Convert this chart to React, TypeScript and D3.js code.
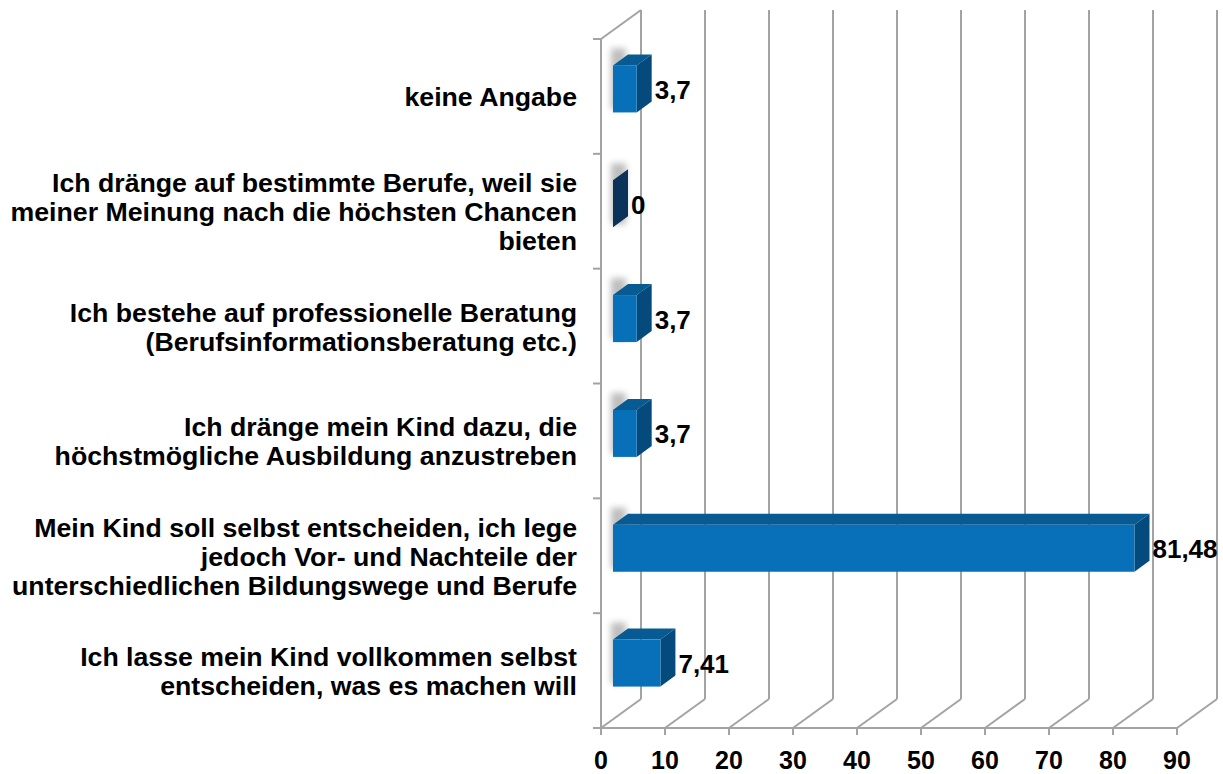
import React from "react";
import * as d3 from "d3";

const categories: string[][] = [
  ["keine Angabe"],
  ["Ich dränge auf bestimmte Berufe, weil sie", "meiner Meinung nach die höchsten Chancen", "bieten"],
  ["Ich bestehe auf professionelle Beratung", "(Berufsinformationsberatung etc.)"],
  ["Ich dränge mein Kind dazu, die", "höchstmögliche Ausbildung anzustreben"],
  ["Mein Kind soll selbst entscheiden, ich lege", "jedoch Vor- und Nachteile der", "unterschiedlichen Bildungswege und Berufe"],
  ["Ich lasse mein Kind vollkommen selbst", "entscheiden, was es machen will"],
];
const values: number[] = [3.7, 0, 3.7, 3.7, 81.48, 7.41];
const valueLabels: string[] = ["3,7", "0", "3,7", "3,7", "81,48", "7,41"];
const ticks: number[] = [0, 10, 20, 30, 40, 50, 60, 70, 80, 90];

const W = 1223;
const H = 774;
const FONT = "'Liberation Sans', Arial, sans-serif";

export default function App() {
  const x = d3.scaleLinear().domain([0, 90]).range([601, 1177]);
  const ids = categories.map((_, i) => String(i));
  const y = d3.scaleBand().domain(ids).range([39, 728]).padding(0);
  const top = 39, bottom = 728;
  const DX = 40, DY = -29; // wall depth
  const bOX = 12, bOY = -7.5; // bar front offset (centre shift)
  const bDX = 15, bDY = -11; // bar depth
  const barH = 47;
  const grid = "#a3a3a3";

  const front = "#0870b9";
  const topC = "#085a92";
  const side = "#054a7c";
  const zeroSide = "#0b3258";

  return (
    <svg width={W} height={H} style={{ position: "absolute", left: 0, top: 0, background: "#fff" }}>
      <defs>
        <filter id="blur" x="-100%" y="-50%" width="300%" height="200%">
          <feGaussianBlur stdDeviation="3" />
        </filter>
      </defs>
      <g stroke={grid} strokeWidth={2} fill="none">
        <line x1={x(0)} y1={top} x2={x(0)} y2={bottom} />
        <line x1={x(0)} y1={top} x2={x(0) + DX} y2={top + DY} />
        {ticks.map((t) => (
          <line key={"v" + t} x1={x(t) + DX} y1={top + DY} x2={x(t) + DX} y2={bottom + DY} />
        ))}
        {ticks.map((t) => (
          <line key={"d" + t} x1={x(t)} y1={bottom} x2={x(t) + DX} y2={bottom + DY} />
        ))}
        <line x1={x(0)} y1={bottom} x2={x(90)} y2={bottom} />
        {ticks.map((t) => (
          <line key={"t" + t} x1={x(t)} y1={bottom} x2={x(t)} y2={bottom + 7} />
        ))}
        {[...ids.map((id) => y(id) as number), bottom].map((yy, i) => (
          <line key={"l" + i} x1={593} y1={yy} x2={x(0)} y2={yy} />
        ))}
      </g>

      {values.map((v, i) => {
        const id = ids[i];
        const cy = (y(id) as number) + y.bandwidth() / 2 + bOY;
        const y0 = cy - barH / 2;
        const y1 = cy + barH / 2;
        const x0 = x(0) + bOX;
        const x1 = x(v) + bOX;
        const topPts = [
          [x0, y0], [x1, y0], [x1 + bDX, y0 + bDY], [x0 + bDX, y0 + bDY],
        ];
        const sidePts = [
          [x1, y0], [x1 + bDX, y0 + bDY], [x1 + bDX, y1 + bDY], [x1, y1],
        ];
        const pts = (p: number[][]) => p.map((q) => q.join(",")).join(" ");
        return (
          <g key={"b" + i}>
            <rect
              x={x0 - 2}
              y={y0 + bDY - 6}
              width={bDX}
              height={barH + 14}
              fill="#8a8a8a"
              opacity={0.55}
              filter="url(#blur)"
            />
            {v > 0 && <polygon points={pts(topPts)} fill={topC} />}
            <polygon points={pts(sidePts)} fill={v > 0 ? side : zeroSide} />
            {v > 0 && <rect x={x0} y={y0} width={x1 - x0} height={barH} fill={front} />}
            <text
              x={x1 + bDX + 3}
              y={cy + 10}
              fontFamily={FONT}
              fontWeight="bold"
              fontSize={26}
              fill="#000"
            >
              {valueLabels[i]}
            </text>
          </g>
        );
      })}

      {categories.map((lines, i) => {
        const c = (y(ids[i]) as number) + y.bandwidth() / 2;
        return (
          <text key={"c" + i} fontFamily={FONT} fontWeight="bold" fontSize={26.7} textAnchor="end" fill="#000">
            {lines.map((ln, j) => (
              <tspan key={j} x={577} y={c + 10 + (j - (lines.length - 1) / 2) * 29}>
                {ln}
              </tspan>
            ))}
          </text>
        );
      })}

      {ticks.map((t) => (
        <text
          key={"tl" + t}
          x={x(t)}
          y={769}
          textAnchor="middle"
          fontFamily={FONT}
          fontWeight="bold"
          fontSize={25}
          fill="#000"
        >
          {t}
        </text>
      ))}
    </svg>
  );
}
